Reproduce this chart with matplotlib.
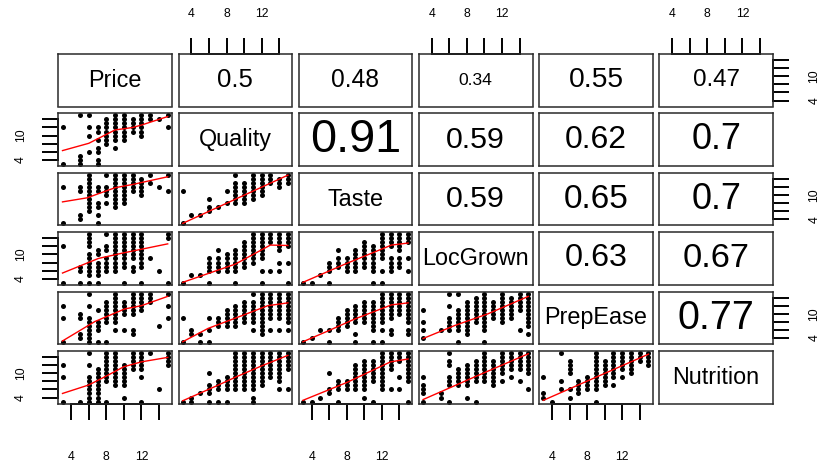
"""
Scatterplot matrix: |r| in the upper panels, points + smoother in the lower ones
"""

import numpy as np
import matplotlib.pyplot as plt

plt.rcParams["font.family"] = ["Liberation Sans", "DejaVu Sans"]

NAMES = ["Price", "Quality", "Taste", "LocGrown", "PrepEase", "Nutrition"]
LEVELS = list(range(3, 16))  # every score sits on an integer 3..15

# |r| for upper panels, row by row
CORR_ROW0 = [0.5, 0.48, 0.34, 0.55, 0.47]
CORR_ROW1 = [0.91, 0.59, 0.62, 0.7]
CORR_ROW2 = [0.59, 0.65, 0.7]
CORR_ROW3 = [0.63, 0.67]
CORR_ROW4 = [0.77]

# lower panels: for each x level 3..15 the y levels that carry a point
QUALITY_PRICE = ["3 12", "", "3 4 5 15", "6 10 12 15", "3 4 6 7 9 11 12", "8-14",
                 "7 9-15", "9-15", "11-14", "10-15", "14 15", "14", "12 15"]
TASTE_PRICE = ["3 12", "", "4 5 11 12", "6-15", "3 5 7 8 11 12", "8 10 11 12 15",
               "7-15", "8-15", "11-15", "10-14", "13 15", "12", "11 15"]
TASTE_QUALITY = ["3 11", "5", "5", "6 7 9", "7", "8 11", "8-13 15", "8-13",
                 "9-15", "10-15", "13-15", "12-14", "13-15"]
LOCGROWN_PRICE = ["3 12", "", "3 6 7", "3 5-10 12-15", "3 5-8 10 11", "6-9 11 12 15",
                  "6-15", "3 7-15", "6 7 9-15", "3 7-15", "9", "6", "3 14 15"]
LOCGROWN_QUALITY = ["3", "5", "5", "3 6-9", "6-9 11", "6-10", "3 6-11", "7-13",
                    "8-15", "3 6 9-15", "6 13-15", "6 8 11-15", "3 8 12-15"]
LOCGROWN_TASTE = ["3", "3", "5", "3 6-8", "7-9 11", "6-9", "6-11", "7-13",
                  "3 6-12", "3 6 9-15", "6-9 12-15", "7-9 11-15", "6 9 13-15"]
PREPEASE_PRICE = ["3 9 12", "", "4 5 9 10", "3-9 12 15", "3 6-8 11", "3 8-13",
                  "6 8-15", "6 10-13", "5 6 10-15", "11-15", "13-15", "7", "9 12 15"]
PREPEASE_QUALITY = ["3 9", "5 6", "3 5", "3 6 9", "7-9", "7-11", "7-12", "8-13",
                    "6 8-13 15", "5-15", "6 9-15", "6 9-15", "6 8-15"]
PREPEASE_TASTE = ["3", "4", "6", "3 6", "6-9", "7-11", "3 5 8-12", "8-13",
                  "3 6-13", "3 6 8-15", "5 6 9-15", "10-15", "5 6 8-15"]
PREPEASE_LOCGROWN = ["4 6 8 11", "", "6", "6-9 12 15", "3 6-11 15", "5-13", "8-14",
                     "3 6-15", "9-13", "8-15", "9-14", "6 11-15", "5 7-15"]
NUTRITION_PRICE = ["3 9 12", "", "3", "3-9 12 15", "3-11", "3 8-15", "7-15",
                   "4 7-12", "11-15", "3 9 11-15", "15", "6", "12-15"]
NUTRITION_QUALITY = ["3", "3 4", "5", "3 5-7 10", "3 6-8", "3 6-9", "6-15", "6-15",
                     "3 4 6-15", "7-15", "9-15", "6 8-15", "6 11-15"]
NUTRITION_TASTE = ["3", "3", "4", "5 6 10", "3 6-8", "6-8", "6-12", "4 6-13",
                   "3 8-13", "6-15", "6 11-15", "6 9 13-15", "3 8-15"]
NUTRITION_LOCGROWN = ["3 5-7 9", "", "4 5", "3 7-9 12 13 15", "7-11", "4 7-12",
                      "3 8-13", "8-15", "7-13", "8 10-15", "9 11-15", "8 11-15", "6 10-15"]
NUTRITION_PREPEASE = ["4 5 9", "3", "6 8 15", "4 6 10-13", "5-8", "6-9", "3 6-15",
                      "7-13", "7 9-15", "9 11-15", "10-15", "13-15", "12-15"]

# smoother: (x, y) vertices
SMOOTH_QUALITY_PRICE = ([3, 6, 9, 11, 12, 15], [6.3, 8.1, 11.4, 12.0, 12.6, 14.7])
SMOOTH_TASTE_PRICE = ([3, 5.8, 9, 11, 15], [8.3, 9.3, 11.8, 12.6, 14.5])
SMOOTH_TASTE_QUALITY = ([3, 15], [3.0, 14.9])
SMOOTH_LOCGROWN_PRICE = ([3, 7.1, 9.8, 15], [5.4, 9.0, 10.3, 12.6])
SMOOTH_LOCGROWN_QUALITY = ([3, 9, 13, 15], [3.1, 7.6, 12.3, 12.2])
SMOOTH_LOCGROWN_TASTE = ([3, 7.8, 13.1, 15], [3.1, 7.6, 12.3, 12.8])
SMOOTH_PREPEASE_PRICE = ([3, 6.7, 10.1, 12, 15], [3.3, 8.1, 11.2, 12.0, 14.3])
SMOOTH_PREPEASE_QUALITY = ([3, 5.9, 9.7, 12.7, 15], [3.1, 6.4, 9.5, 12.0, 12.7])
SMOOTH_PREPEASE_TASTE = ([3, 5.9, 8.9, 13.1, 15], [3.1, 5.8, 8.7, 12.2, 12.7])
SMOOTH_PREPEASE_LOCGROWN = ([3, 6.6, 10.4, 15], [3.9, 7.1, 10.0, 14.3])
SMOOTH_NUTRITION_PRICE = ([3, 6, 8, 10, 12, 15], [5.0, 7.1, 9.3, 11.6, 12.8, 13.9])
SMOOTH_NUTRITION_QUALITY = ([3, 7, 9, 12, 15], [3.2, 7.0, 9.0, 11.8, 14.4])
SMOOTH_NUTRITION_TASTE = ([3, 8, 13, 15], [3.3, 7.7, 12.8, 13.5])
SMOOTH_NUTRITION_LOCGROWN = ([3, 9, 15], [3.5, 9.2, 14.8])
SMOOTH_NUTRITION_PREPEASE = ([3, 9, 15], [3.3, 9.0, 14.7])

LOWER = {
    (1, 0): (QUALITY_PRICE, SMOOTH_QUALITY_PRICE),
    (2, 0): (TASTE_PRICE, SMOOTH_TASTE_PRICE),
    (2, 1): (TASTE_QUALITY, SMOOTH_TASTE_QUALITY),
    (3, 0): (LOCGROWN_PRICE, SMOOTH_LOCGROWN_PRICE),
    (3, 1): (LOCGROWN_QUALITY, SMOOTH_LOCGROWN_QUALITY),
    (3, 2): (LOCGROWN_TASTE, SMOOTH_LOCGROWN_TASTE),
    (4, 0): (PREPEASE_PRICE, SMOOTH_PREPEASE_PRICE),
    (4, 1): (PREPEASE_QUALITY, SMOOTH_PREPEASE_QUALITY),
    (4, 2): (PREPEASE_TASTE, SMOOTH_PREPEASE_TASTE),
    (4, 3): (PREPEASE_LOCGROWN, SMOOTH_PREPEASE_LOCGROWN),
    (5, 0): (NUTRITION_PRICE, SMOOTH_NUTRITION_PRICE),
    (5, 1): (NUTRITION_QUALITY, SMOOTH_NUTRITION_QUALITY),
    (5, 2): (NUTRITION_TASTE, SMOOTH_NUTRITION_TASTE),
    (5, 3): (NUTRITION_LOCGROWN, SMOOTH_NUTRITION_LOCGROWN),
    (5, 4): (NUTRITION_PREPEASE, SMOOTH_NUTRITION_PREPEASE),
}
UPPER = [CORR_ROW0, CORR_ROW1, CORR_ROW2, CORR_ROW3, CORR_ROW4]

TICKS = [4, 6, 8, 10, 12, 14]
XTICKLABELS = ["4", "", "8", "", "12", ""]
YTICKLABELS = ["4", "", "", "10", "", ""]
LIM = (2.52, 15.48)


def expand(columns):
    """turn the per-level strings into x, y arrays"""
    xs, ys = [], []
    for x, col in zip(LEVELS, columns):
        for tok in col.split():
            if "-" in tok:
                lo, hi = (int(v) for v in tok.split("-"))
                vals = range(lo, hi + 1)
            else:
                vals = [int(tok)]
            for y in vals:
                xs.append(x)
                ys.append(y)
    return np.array(xs), np.array(ys)


W, H = 826, 467
fig = plt.figure(figsize=(W / 100, H / 100), dpi=100)

n = len(NAMES)
axes = {}
for r in range(n):
    for c in range(n):
        left = 58.3 + 120.2 * c
        top = 54.0 + 59.4 * r
        ax = fig.add_axes([left / W, 1 - (top + 52.5) / H, 113.6 / W, 52.5 / H])
        ax.set_xlim(LIM)
        ax.set_ylim(LIM)
        for sp in ax.spines.values():
            sp.set_linewidth(1.1)
            sp.set_color("#2a2a2a")
        ax.set_xticks([])
        ax.set_yticks([])
        axes[r, c] = ax

for r in range(n):
    for c in range(n):
        ax = axes[r, c]
        if r == c:
            ax.text(0.5, 0.5, NAMES[r], transform=ax.transAxes, ha="center",
                    va="center", fontsize=16.8)
        elif c > r:
            val = UPPER[r][c - r - 1]
            ax.text(0.5, 0.5, f"{val:g}", transform=ax.transAxes, ha="center",
                    va="center", fontsize=37 * val)
        else:
            cols, smooth = LOWER[r, c]
            px, py = expand(cols)
            ax.plot(px, py, "o", color="black", markersize=3.6, markeredgewidth=0)
            ax.plot(smooth[0], smooth[1], color="red", lw=1.0)

tick_kw = dict(direction="out", length=11.5, width=1.4, labelsize=8.8, color="black")

# top axes on odd columns of the first row, bottom axes on even columns of the last
for c in range(n):
    if c % 2 == 1:
        ax = axes[0, c]
        ax.xaxis.tick_top()
        ax.set_xticks(TICKS, XTICKLABELS)
        ax.tick_params(axis="x", pad=13, **tick_kw)
        ax.plot([4, 14], [LIM[1], LIM[1]], color="black", lw=1.4, clip_on=False)
    else:
        ax = axes[n - 1, c]
        ax.set_xticks(TICKS, XTICKLABELS)
        ax.tick_params(axis="x", pad=23, **tick_kw)
        ax.plot([4, 14], [LIM[0], LIM[0]], color="black", lw=1.4, clip_on=False)

# left axes on odd rows, right axes on even rows
for r in range(n):
    if r % 2 == 1:
        ax = axes[r, 0]
        ax.set_yticks(TICKS, YTICKLABELS, rotation=90, va="center")
        ax.tick_params(axis="y", pad=11, **tick_kw)
        ax.plot([LIM[0], LIM[0]], [4, 14], color="black", lw=1.4, clip_on=False)
    else:
        ax = axes[r, n - 1]
        ax.yaxis.tick_right()
        ax.set_yticks(TICKS, YTICKLABELS, rotation=90, va="center")
        ax.tick_params(axis="y", pad=14, **tick_kw)
        ax.plot([LIM[1], LIM[1]], [4, 14], color="black", lw=1.4, clip_on=False)

plt.savefig("out.png", dpi=100)
